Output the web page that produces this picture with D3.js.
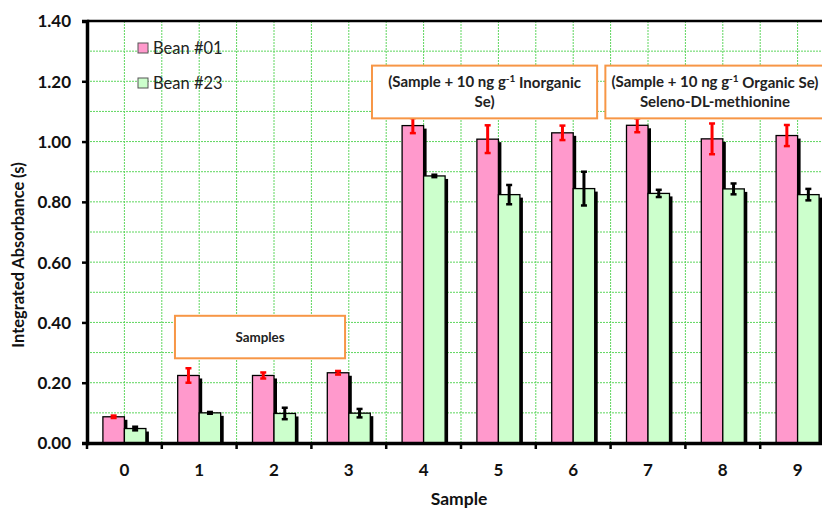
<!DOCTYPE html>
<html><head><meta charset="utf-8">
<script src="https://cdn.jsdelivr.net/npm/d3@7"></script>
<style>body{margin:0;background:#fff}svg{display:block}text{font-family:Lato,"Open Sans",sans-serif}</style>
</head><body><svg id="c" width="822" height="510"></svg>
<script>
const categories = ["0","1","2","3","4","5","6","7","8","9"];
const bean01 = [0.087,0.224,0.224,0.233,1.053,1.008,1.029,1.054,1.009,1.020];
const bean01Err = [0.004,0.024,0.010,0.006,0.025,0.046,0.024,0.023,0.051,0.035];
const bean23 = [0.048,0.100,0.098,0.099,0.886,0.824,0.844,0.828,0.843,0.824];
const bean23Err = [0.006,0.003,0.019,0.014,0.004,0.032,0.056,0.012,0.018,0.019];
const seriesNames = ["Bean #01","Bean #23"];
const yTicks = [0,0.2,0.4,0.6,0.8,1.0,1.2,1.4];

const svg = d3.select("#c");
const L = 87, T = 21, B = 443, catW = 74.8;
const x = d3.scaleBand().domain(categories).range([L, L + catW*categories.length]).padding(0);
const y = d3.scaleLinear().domain([0,1.4]).range([B, T]);
const barW = 21.5;
const gridColor = "#5ed65e";

// grid
const g = svg.append("g");
d3.range(0,1.41,0.1).forEach(v=>{
  g.append("line").attr("x1",L).attr("x2",835).attr("y1",y(v)).attr("y2",y(v))
   .attr("stroke",gridColor).attr("stroke-width",1).attr("stroke-dasharray","2,1");
});
categories.forEach((c,i)=>{
  [x(c), x(c)+x.bandwidth()/2].forEach(xx=>{
    g.append("line").attr("x1",xx).attr("x2",xx).attr("y1",T).attr("y2",B)
     .attr("stroke",gridColor).attr("stroke-width",1).attr("stroke-dasharray","2,1");
  });
});
// top border
svg.append("line").attr("x1",L).attr("x2",822).attr("y1",T).attr("y2",T).attr("stroke","#000").attr("stroke-width",2.5);

// bars
const series = [
  {vals:bean01, err:bean01Err, fill:"#ff99cc", errColor:"#ff0000", off:-1},
  {vals:bean23, err:bean23Err, fill:"#ccffcc", errColor:"#000", off:0},
];
categories.forEach((c,i)=>{
  const cx = x(c) + x.bandwidth()/2;
  series.forEach(s=>{
    const x0 = cx + s.off*barW;
    svg.append("rect").attr("x",x0+3).attr("y",y(s.vals[i])+3).attr("width",barW).attr("height",B-y(s.vals[i])-3).attr("fill","#000");
    svg.append("rect").attr("x",x0).attr("y",y(s.vals[i])).attr("width",barW).attr("height",B-y(s.vals[i]))
      .attr("fill",s.fill).attr("stroke","#000").attr("stroke-width",1.3);
  });
  series.forEach(s=>{
    const ex = cx + s.off*barW + barW/2;
    const y1 = y(s.vals[i]+s.err[i]), y2 = y(s.vals[i]-s.err[i]);
    svg.append("line").attr("x1",ex).attr("x2",ex).attr("y1",y1).attr("y2",y2).attr("stroke",s.errColor).attr("stroke-width",3);
    [y1,y2].forEach(yy=>svg.append("line").attr("x1",ex-3).attr("x2",ex+3).attr("y1",yy).attr("y2",yy).attr("stroke",s.errColor).attr("stroke-width",2.5));
  });
});

// axes
const yAxis = svg.append("g").attr("transform",`translate(${L},0)`)
  .call(d3.axisLeft(y).tickValues(yTicks).tickFormat(d3.format(".2f")).tickSize(5).tickPadding(11));
yAxis.select(".domain").attr("stroke-width",3.5);
yAxis.selectAll(".tick line").attr("stroke-width",2.5);
yAxis.selectAll("text").attr("font-size",17).attr("font-weight","bold").attr("fill","#111").attr("dy","0.35em");

const xAxis = svg.append("g").attr("transform",`translate(0,${B})`)
  .call(d3.axisBottom(x).tickSize(0).tickPadding(21));
xAxis.select(".domain").attr("stroke-width",3.5);
xAxis.selectAll("text").attr("font-size",17).attr("font-weight","bold").attr("fill","#111");
categories.forEach(c=>{
  svg.append("line").attr("x1",x(c)).attr("x2",x(c)).attr("y1",B).attr("y2",B+6).attr("stroke","#000").attr("stroke-width",2.5);
});

// axis titles
svg.append("text").attr("x",459).attr("y",505).attr("text-anchor","middle")
  .attr("font-size",17.5).attr("font-weight","bold").attr("fill","#111").text("Sample");
svg.append("text").attr("transform",`translate(24,255) rotate(-90)`).attr("text-anchor","middle")
  .attr("font-size",16.4).attr("font-weight","bold").attr("fill","#111").text("Integrated Absorbance (s)");

// legend
series.forEach((s,i)=>{
  const ly = 48 + i*35;
  svg.append("rect").attr("x",138).attr("y",ly-5).attr("width",10).attr("height",10).attr("fill",s.fill).attr("stroke","#555").attr("stroke-width",1);
  svg.append("text").attr("x",153).attr("y",ly).attr("dy","0.35em").attr("font-size",16.5).attr("fill","#222").text(seriesNames[i]);
});

// annotation boxes (positions in category units from the left axis)
const xc = u => L + catW*u;
function box(u0,u1,v0,v1){
  svg.append("rect").attr("x",xc(u0)).attr("y",y(v0)).attr("width",xc(u1)-xc(u0)).attr("height",y(v1)-y(v0))
    .attr("fill","#fff").attr("stroke","#f79646").attr("stroke-width",2);
}
box(1.176, 3.45, 0.422, 0.281);
svg.append("text").attr("x",(xc(1.176)+xc(3.45))/2).attr("y",(y(0.422)+y(0.281))/2).attr("dy","0.35em")
  .attr("text-anchor","middle").attr("font-size",13.4).attr("font-weight","bold").attr("fill","#222").text("Samples");

box(3.81, 6.82, 1.252, 1.077);
box(6.93, 9.86, 1.252, 1.077);

function supLine(cxp, cyp, pre, sup, post){
  const t = svg.append("text").attr("x",cxp).attr("y",cyp).attr("dy","0.35em").attr("text-anchor","middle")
    .attr("font-size",15).attr("font-weight","bold").attr("fill","#222");
  t.append("tspan").text(pre);
  t.append("tspan").attr("font-size",10).attr("dy","-0.55em").text(sup);
  t.append("tspan").attr("dy","0.4em").text(post);
}
const c2 = (xc(3.81)+xc(6.82))/2, c3 = (xc(6.93)+xc(9.86))/2;
supLine(c2, 82, "(Sample + 10 ng g", "-1", " Inorganic");
svg.append("text").attr("x",c2).attr("y",102).attr("dy","0.35em").attr("text-anchor","middle").attr("font-size",15).attr("font-weight","bold").attr("fill","#222").text("Se)");
supLine(c3, 82, "(Sample + 10 ng g", "-1", " Organic Se)");
svg.append("text").attr("x",c3).attr("y",102).attr("dy","0.35em").attr("text-anchor","middle").attr("font-size",15).attr("font-weight","bold").attr("fill","#222").text("Seleno-DL-methionine");
</script></body></html>
